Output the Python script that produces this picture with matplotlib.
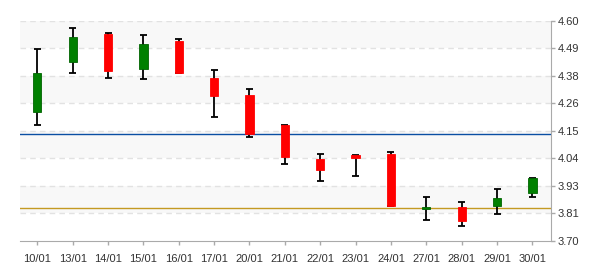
import numpy as np
import matplotlib
matplotlib.use("Agg")
from matplotlib import pyplot as plt

plt.rcParams['font.family'] = ['Liberation Sans', 'DejaVu Sans']

# datos de las velas
dates = ['10/01', '13/01', '14/01', '15/01', '16/01', '17/01', '20/01', '21/01',
         '22/01', '23/01', '24/01', '27/01', '28/01', '29/01', '30/01']
opens = [4.228, 4.432, 4.545, 4.403, 4.516, 4.365, 4.296, 4.173,
         4.035, 4.051, 4.055, 3.831, 3.839, 3.844, 3.897]
highs = [4.482, 4.568, 4.548, 4.540, 4.523, 4.397, 4.319, 4.173,
         4.054, 4.051, 4.062, 3.878, 3.858, 3.911, 3.956]
lows = [4.172, 4.385, 4.364, 4.360, 4.385, 4.205, 4.123, 4.014,
        3.944, 3.964, 3.844, 3.784, 3.760, 3.809, 3.878]
closes = [4.385, 4.531, 4.395, 4.503, 4.387, 4.293, 4.137, 4.044,
          3.991, 4.040, 3.844, 3.840, 3.783, 3.876, 3.956]
y_ticks = [3.70, 3.8125, 3.925, 4.0375, 4.15, 4.2625, 4.375, 4.4875, 4.60]
y_labels = ['3.70', '3.81', '3.93', '4.04', '4.15', '4.26', '4.38', '4.49', '4.60']
blue_level = 4.135
gold_level = 3.835

fig = plt.figure(figsize=(6, 2.7), dpi=100)
ax = fig.add_axes([0.0333, 0.1074, 0.8847, 0.8166])

x = np.arange(len(dates))
o = np.array(opens)
c = np.array(closes)
up = c >= o
colors = np.where(up, '#008000', '#ff0000')
edges = np.where(up, '#006400', '#ff0000')

# bandas de fondo
for i in range(0, len(y_ticks) - 1):
    if i % 2 == 1:
        ax.axhspan(y_ticks[i], y_ticks[i + 1], color='#f8f8f8', zorder=0, lw=0)
for t in y_ticks[1:]:
    ax.axhline(t, color='#e2e2e2', lw=1, ls=(0, (4, 3)), zorder=1)

ax.axhline(blue_level, color='#0a4fa3', lw=1, zorder=2)
ax.axhline(gold_level, color='#c49a22', lw=1, zorder=2)

# mechas y topes
ax.vlines(x, lows, highs, color='black', lw=1.3, zorder=3)
ax.hlines(highs, x - 0.1, x + 0.1, color='black', lw=1.3, zorder=3)
ax.hlines(lows, x - 0.1, x + 0.1, color='black', lw=1.3, zorder=3)
# cuerpos
ax.bar(x, np.abs(c - o), bottom=np.minimum(o, c), width=0.235,
       color=colors, edgecolor=edges, lw=0.6, zorder=4)

ax.set_xlim(-0.49, 14.52)
ax.set_ylim(3.70, 4.60)
ax.set_xticks(x)
ax.set_xticklabels(dates)
ax.set_yticks(y_ticks)
ax.set_yticklabels(y_labels)
ax.yaxis.tick_right()
for s in ['top', 'left']:
    ax.spines[s].set_visible(False)
for s in ['bottom', 'right']:
    ax.spines[s].set_color('#aaaaaa')
ax.tick_params(axis='both', colors='#aaaaaa', labelcolor='#333333',
               labelsize=8, length=3, width=1)
ax.tick_params(axis='x', pad=6)
ax.tick_params(axis='y', pad=2)

plt.savefig('out.png', dpi=100)
